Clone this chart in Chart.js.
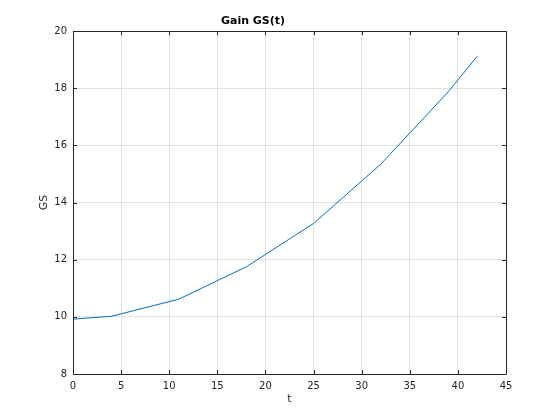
<!DOCTYPE html>
<html>
<head>
<meta charset="utf-8">
<script src="https://cdn.jsdelivr.net/npm/chart.js@4.4.1/dist/chart.umd.min.js"></script>
<style>
  html, body { margin: 0; padding: 0; background: #ffffff; }
  #wrap { width: 560px; height: 420px; position: relative; }
</style>
</head>
<body>
<div id="wrap"><canvas id="c" width="560" height="420"></canvas></div>
<script>
const tValues = [0, 4, 11, 18, 25, 32, 39, 42];
const gsValues = [9.92, 10.02, 10.62, 11.75, 13.27, 15.35, 17.88, 19.12];
const xTicks = [0, 5, 10, 15, 20, 25, 30, 35, 40, 45];
const yTicks = [8, 10, 12, 14, 16, 18, 20];

const axisColor = '#262626';
const gridColor = '#e3e3e3';
const fontFamily = 'DejaVu Sans, sans-serif';

const boxTicks = {
  id: 'boxTicks',
  afterDraw(chart) {
    const ctx = chart.ctx;
    const a = chart.chartArea;
    const xs = chart.scales.x, ys = chart.scales.y;
    const len = 4;
    ctx.save();
    ctx.strokeStyle = axisColor;
    ctx.lineWidth = 1;
    ctx.beginPath();
    ctx.rect(Math.round(a.left) + 0.5, Math.round(a.top) + 0.5,
             Math.round(a.right - a.left), Math.round(a.bottom - a.top));
    xTicks.forEach(v => {
      const px = Math.round(xs.getPixelForValue(v)) + 0.5;
      ctx.moveTo(px, a.bottom); ctx.lineTo(px, a.bottom - len);
      ctx.moveTo(px, a.top); ctx.lineTo(px, a.top + len);
    });
    yTicks.forEach(v => {
      const py = Math.round(ys.getPixelForValue(v)) + 0.5;
      ctx.moveTo(a.left, py); ctx.lineTo(a.left + len, py);
      ctx.moveTo(a.right, py); ctx.lineTo(a.right - len, py);
    });
    ctx.stroke();
    ctx.restore();
  }
};

new Chart(document.getElementById('c'), {
  type: 'line',
  data: {
    datasets: [{
      data: tValues.map((t, i) => ({ x: t, y: gsValues[i] })),
      borderColor: '#0072BD',
      borderWidth: 1,
      pointRadius: 0,
      tension: 0,
      fill: false
    }]
  },
  options: {
    responsive: false,
    animation: false,
    devicePixelRatio: 1,
    layout: { padding: { left: 0, right: 54, top: 0, bottom: 0 } },
    plugins: {
      legend: { display: false },
      tooltip: { enabled: false },
      title: {
        display: true,
        text: 'Gain GS(t)',
        color: '#000000',
        font: { family: fontFamily, size: 11, weight: 'bold', lineHeight: 1.2 },
        padding: { top: 15, bottom: 3 }
      }
    },
    scales: {
      x: {
        type: 'linear',
        min: 0, max: 45,
        afterBuildTicks: s => { s.ticks = xTicks.map(v => ({ value: v })); },
        afterFit: s => { s.height = 46; },
        grid: { color: gridColor, drawTicks: false, tickLength: 0 },
        border: { display: false },
        ticks: { color: axisColor, padding: 6, maxRotation: 0, font: { family: fontFamily, size: 10 } },
        title: {
          display: true, text: 't', color: axisColor,
          font: { family: fontFamily, size: 11 },
          padding: { top: 0, bottom: 14 }
        }
      },
      y: {
        type: 'linear',
        min: 8, max: 20,
        afterBuildTicks: s => { s.ticks = yTicks.map(v => ({ value: v })); },
        afterFit: s => { s.width = 73; },
        grid: { color: gridColor, drawTicks: false, tickLength: 0 },
        border: { display: false },
        ticks: { color: axisColor, padding: 6, font: { family: fontFamily, size: 10 } },
        title: {
          display: true, text: 'GS', color: axisColor,
          font: { family: fontFamily, size: 11 },
          padding: { top: 38, bottom: 0 }
        }
      }
    }
  },
  plugins: [boxTicks]
});
</script>
</body>
</html>
